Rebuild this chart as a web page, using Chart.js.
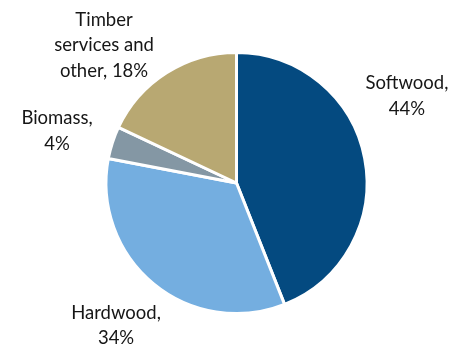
<!DOCTYPE html>
<html>
<head>
<title>Revenue by segment</title>
<script src="https://cdn.jsdelivr.net/npm/chart.js@4"></script>
<style>
  html, body { margin: 0; padding: 0; background: #fff; }
  #wrap { width: 462px; height: 347px; }
</style>
</head>
<body>
<div id="wrap"><canvas id="pie" width="462" height="347"></canvas></div>
<script>
const LABELS = ['Softwood', 'Hardwood', 'Biomass', 'Timber services and other'];
const SHARES = [44, 34, 4, 18];
const COLORS = ['#044a80', '#74aee0', '#8497a4', '#b8a872'];

// label text lines, and where each label block sits relative to the pie centre (in radii)
const LABEL_LINES = [
  ['Softwood,', '44%'],
  ['Hardwood,', '34%'],
  ['Biomass,', '4%'],
  ['Timber', 'services and', 'other, 18%']
];
const LABEL_POS = [[1.306, -0.667], [-0.923, 1.092], [-1.375, -0.398], [-1.015, -1.054]];

const FONT = '18.5px Lato, "Open Sans", sans-serif';
const LINE_H = 25.5;

const sliceLabels = {
  id: 'sliceLabels',
  afterDatasetsDraw(chart) {
    const ctx = chart.ctx;
    const arcs = chart.getDatasetMeta(0).data;
    ctx.save();
    ctx.font = FONT;
    ctx.fillStyle = '#161616';
    ctx.textAlign = 'center';
    ctx.textBaseline = 'middle';
    arcs.forEach((arc, i) => {
      const r = arc.outerRadius;
      const cx = arc.x + LABEL_POS[i][0] * r;
      const cy = arc.y + LABEL_POS[i][1] * r;
      const lines = LABEL_LINES[i];
      const top = cy - (lines.length - 1) * LINE_H / 2;
      lines.forEach((t, k) => ctx.fillText(t, cx, top + k * LINE_H));
    });
    ctx.restore();
  }
};

new Chart(document.getElementById('pie'), {
  type: 'pie',
  data: {
    labels: LABELS,
    datasets: [{
      data: SHARES,
      backgroundColor: COLORS,
      borderColor: '#ffffff',
      borderWidth: 3
    }]
  },
  options: {
    responsive: false,
    animation: false,
    layout: { padding: { left: 11, right: 0, top: 51, bottom: 32 } },
    plugins: {
      legend: { display: false },
      tooltip: { enabled: false }
    }
  },
  plugins: [sliceLabels]
});
</script>
</body>
</html>
